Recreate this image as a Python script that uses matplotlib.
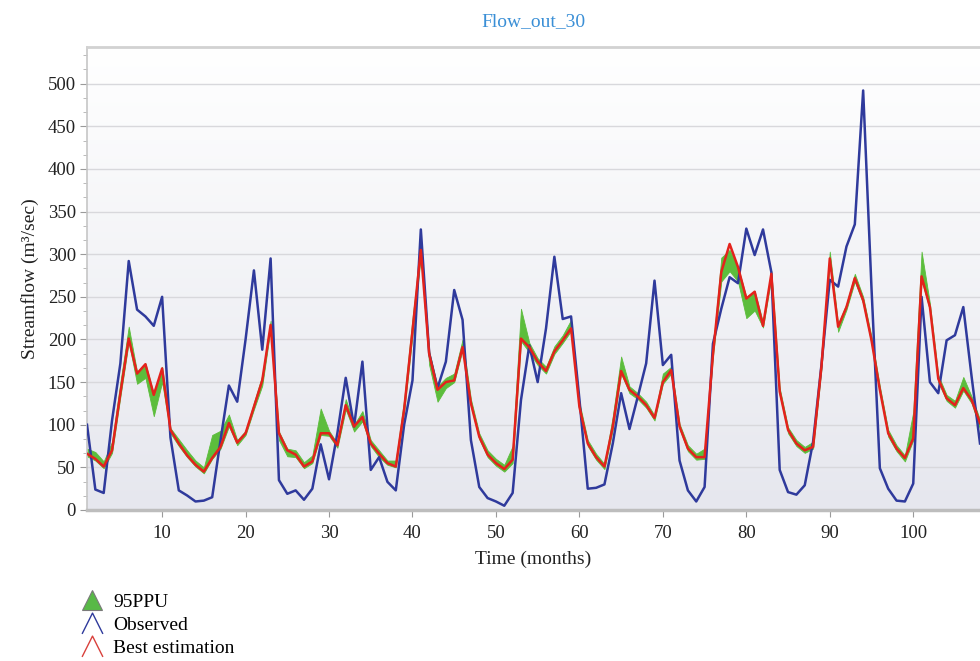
import numpy as np
import matplotlib
matplotlib.use("Agg")
import matplotlib.pyplot as plt
from matplotlib.lines import Line2D
from matplotlib.path import Path
from matplotlib.ticker import AutoMinorLocator

months = list(range(1, 109))

observed = [100, 24, 20, 105, 172, 292, 235, 227, 216, 250,
            85, 23, 17, 10, 11, 15, 82, 146, 127, 200,
            281, 188, 295, 35, 19, 23, 12, 25, 77, 36,
            90, 155, 98, 174, 47, 62, 33, 23, 100, 152,
            329, 184, 143, 174, 258, 223, 82, 27, 14, 10,
            5, 20, 129, 193, 150, 213, 297, 224, 227, 130,
            25, 26, 30, 78, 137, 95, 133, 172, 269, 170,
            182, 58, 23, 10, 27, 195, 236, 273, 266, 330,
            299, 329, 279, 47, 21, 18, 29, 80, 170, 270,
            262, 309, 335, 492, 260, 49, 25, 11, 10, 31,
            250, 150, 137, 199, 205, 238, 156, 78]

best = [66, 60, 51, 70, 137, 201, 160, 171, 135, 166,
        94, 78, 64, 53, 45, 61, 74, 102, 79, 90,
        121, 152, 217, 90, 70, 65, 51, 57, 90, 90,
        76, 123, 98, 109, 78, 66, 55, 51, 118, 210,
        305, 183, 141, 150, 152, 191, 125, 86, 65, 55,
        48, 59, 201, 191, 174, 163, 186, 199, 213, 121,
        78, 62, 51, 98, 163, 141, 133, 123, 108, 150,
        164, 98, 72, 62, 62, 182, 279, 312, 285, 248,
        256, 216, 277, 139, 94, 78, 70, 74, 168, 295,
        215, 238, 272, 246, 199, 141, 90, 72, 61, 84,
        274, 238, 154, 131, 123, 143, 129, 102]

ppu_lower = [63, 58, 49, 67, 133, 197, 148, 155, 110, 150,
             90, 75, 62, 51, 43, 60, 72, 98, 76, 88,
             118, 146, 213, 82, 63, 62, 49, 55, 88, 87,
             73, 118, 92, 104, 75, 62, 53, 50, 115, 205,
             298, 170, 127, 143, 150, 188, 122, 83, 62, 52,
             45, 55, 198, 185, 170, 160, 183, 196, 210, 118,
             75, 59, 48, 95, 160, 137, 130, 120, 105, 148,
             160, 95, 69, 59, 60, 180, 268, 280, 268, 225,
             234, 214, 273, 135, 90, 75, 67, 72, 165, 290,
             209, 235, 268, 242, 195, 138, 86, 69, 57, 82,
             270, 234, 150, 128, 120, 140, 125, 95]

ppu_upper = [72, 68, 57, 80, 150, 215, 162, 172, 136, 168,
             96, 83, 70, 58, 50, 88, 93, 112, 82, 93,
             126, 158, 222, 92, 72, 70, 56, 64, 119, 93,
             78, 130, 100, 116, 82, 70, 58, 58, 130, 225,
             310, 186, 145, 155, 160, 200, 130, 90, 70, 60,
             53, 75, 236, 196, 178, 168, 192, 205, 223, 126,
             82, 66, 54, 110, 180, 145, 137, 127, 111, 160,
             168, 101, 76, 66, 72, 190, 296, 305, 285, 250,
             257, 220, 280, 143, 97, 82, 74, 80, 175, 303,
             218, 242, 277, 250, 203, 145, 94, 76, 64, 115,
             303, 242, 158, 135, 128, 156, 133, 106]

x_ticks = [10, 20, 30, 40, 50, 60, 70, 80, 90, 100]
y_ticks = [0, 50, 100, 150, 200, 250, 300, 350, 400, 450, 500]

SERIF = ["Liberation Serif", "DejaVu Serif"]
plt.rcParams["font.family"] = SERIF

BLUE = "#2f3a9c"
RED = "#e4221c"
GREEN = "#5cbd3c"
TXT = "#222222"

fig = plt.figure(figsize=(9.8, 6.61), dpi=100)
ax = fig.add_axes([87 / 980, 1 - 510 / 661, (980 - 87) / 980, (510 - 47) / 661])

xmin, xmax = 1, 108
ymin, ymax = 0, 543

# gradient background: white at top to light grey-blue at bottom
grad = np.linspace(0, 1, 256).reshape(-1, 1)
top = np.array([1.0, 1.0, 1.0])
bot = np.array([230, 231, 238]) / 255.0
img = top[None, None, :] * (1 - grad[:, :, None]) + bot[None, None, :] * grad[:, :, None]
ax.imshow(img, extent=[xmin, xmax, ymin, ymax], origin="upper", aspect="auto",
          zorder=0, interpolation="bicubic")
ax.set_xlim(xmin, xmax)
ax.set_ylim(ymin, ymax)

for yt in y_ticks[1:]:
    ax.axhline(yt, color="#d8d8dc", lw=1.0, zorder=1)

ax.fill_between(months, ppu_lower, ppu_upper, color=GREEN, lw=0.6,
                edgecolor=GREEN, zorder=2)
ax.plot(months, observed, color=BLUE, lw=1.8, zorder=3)
ax.plot(months, best, color=RED, lw=1.8, zorder=4)

ax.set_xticks(x_ticks)
ax.set_yticks(y_ticks)
ax.yaxis.set_minor_locator(AutoMinorLocator(3))
ax.tick_params(axis="both", which="major", direction="out", length=5,
               color="#9a9a9a", labelsize=13.5, labelcolor=TXT, pad=3)
ax.tick_params(axis="y", which="minor", direction="out", length=3,
               color="#b0b0b0")
ax.tick_params(axis="x", pad=6)

ax.spines["right"].set_visible(False)
ax.spines["top"].set_color("#d2d2d2")
ax.spines["top"].set_linewidth(2.0)
ax.spines["left"].set_color("#c6c6c6")
ax.spines["left"].set_linewidth(1.2)
ax.spines["bottom"].set_color("#bdbdbd")
ax.spines["bottom"].set_linewidth(2.5)

ax.set_xlabel("Time (months)", fontsize=14, color=TXT, labelpad=6)
ax.set_ylabel("Streamflow (m³/sec)", fontsize=14, color=TXT, labelpad=6)
ax.set_title("Flow_out_30", fontsize=14, color="#3a8fd6", pad=15)

# legend
chev = Path([(-1, -1), (0, 1), (1, -1)], [Path.MOVETO, Path.LINETO, Path.LINETO])
handles = [
    Line2D([], [], linestyle="none", marker="^", markersize=15,
           markerfacecolor="#58b947", markeredgecolor="#7a7a7a", markeredgewidth=0.8),
    Line2D([], [], linestyle="none", marker=chev, markersize=15,
           markerfacecolor="none", markeredgecolor=BLUE, markeredgewidth=1.0),
    Line2D([], [], linestyle="none", marker=chev, markersize=15,
           markerfacecolor="none", markeredgecolor="#d9413c", markeredgewidth=1.0),
]
labels = ["95PPU", "Observed", "Best estimation"]
fig.legend(handles, labels, loc="upper left", bbox_to_anchor=(78 / 980, 1 - 593 / 661),
           frameon=False, fontsize=14, handletextpad=0.4, labelspacing=0.28,
           handlelength=1.4, borderaxespad=0, borderpad=0)

fig.savefig("out.png", dpi=100)
